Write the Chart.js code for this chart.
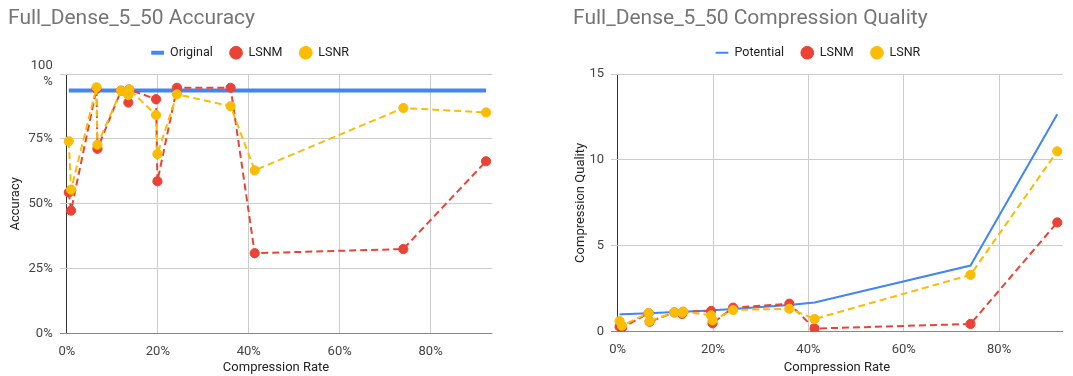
<!DOCTYPE html>
<html><head><meta charset="utf-8">
<script src="https://cdn.jsdelivr.net/npm/chart.js@4.4.1/dist/chart.umd.min.js"></script>
<style>
html,body{margin:0;padding:0;background:#fff;}
#wrap{position:relative;width:1073px;height:376px;overflow:hidden;background:#fff;}
.box{position:absolute;top:0;height:376px;}
#b1{left:0;width:536px;}
#b2{left:536px;width:537px;}
</style></head><body>
<div id="wrap">
  <div class="box" id="b1"><canvas id="c1"></canvas></div>
  <div class="box" id="b2"><canvas id="c2"></canvas></div>
</div>
<script>
// ---- data ----
const compressionRate = [0.4, 0.9, 6.5, 6.7, 11.9, 13.5, 13.7, 19.6, 19.9, 24.2, 36.0, 41.3, 74.0, 92.2];
const originalAccuracy = [93.6, 93.6, 93.6, 93.6, 93.6, 93.6, 93.6, 93.6, 93.6, 93.6, 93.6, 93.6, 93.6, 93.6];
const lsnmAccuracy = [54.4, 47.4, 94.3, 71.2, 93.6, 89.0, 94.0, 90.3, 58.7, 94.7, 94.7, 31.0, 32.6, 66.4];
const lsnrAccuracy = [74.1, 55.5, 94.9, 72.8, 93.6, 91.9, 94.1, 84.2, 69.2, 92.2, 87.6, 62.9, 86.9, 85.2];
const potentialQuality = [1.00, 1.01, 1.07, 1.07, 1.14, 1.16, 1.16, 1.24, 1.25, 1.32, 1.56, 1.70, 3.85, 12.66];
const lsnmQuality = [0.29, 0.22, 1.08, 0.58, 1.12, 1.03, 1.15, 1.21, 0.49, 1.40, 1.63, 0.18, 0.45, 6.36];
const lsnrQuality = [0.62, 0.35, 1.09, 0.62, 1.13, 1.10, 1.17, 0.95, 0.66, 1.26, 1.34, 0.74, 3.31, 10.5];

const xTicks = [0, 20, 40, 60, 80];
const xTickLabels = ['0%', '20%', '40%', '60%', '80%'];
const accTicks = [0, 25, 50, 75, 100];
const accTickLabels = ['0%', '25%', '50%', '75%', ['100', '%']];
const qualTicks = [0, 5, 10, 15];
const qualTickLabels = ['0', '5', '10', '15'];

const BLUE = '#4285F4', RED = '#EA4335', YELLOW = '#FBBC04';
const FONT = 'Roboto, "Liberation Sans", Arial, sans-serif';
Chart.defaults.font.family = FONT;

const pairs = (ys) => compressionRate.map((x, i) => ({x: x, y: ys[i]}));

function lineSet(label, ys, color, width, order) {
  return {label, data: pairs(ys), showLine: true, borderColor: color, backgroundColor: color,
    borderWidth: width, pointRadius: 0, pointHoverRadius: 0, order, xAxisID: 'x', yAxisID: 'y',
    legendStyle: 'line', legendWidth: width};
}
function dashSet(label, ys, color, order) {
  return {label, data: pairs(ys), showLine: true, borderColor: color, backgroundColor: color,
    borderWidth: 2, borderDash: [7, 4], pointRadius: 4.6, pointHoverRadius: 4.6,
    pointBackgroundColor: color, pointBorderColor: color, pointBorderWidth: 1,
    order, xAxisID: 'x', yAxisID: 'y', legendStyle: 'circle', legendWidth: 1};
}

function makeOptions(cfg) {
  return {
    responsive: true, maintainAspectRatio: false, animation: false,
    events: [],
    layout: {padding: {left: cfg.padLeft, right: cfg.padRight, top: 0, bottom: 0}},
    plugins: {
      tooltip: {enabled: false},
      title: {display: true, text: cfg.title, align: 'start', color: '#757575',
        font: {family: FONT, size: 21, weight: 'normal', lineHeight: 1.0},
        padding: {top: 8.5, bottom: 0}},
      legend: {display: true, position: 'top', align: 'center',
        labels: {usePointStyle: true, boxHeight: 9, padding: 17, color: '#222',
          font: {family: FONT, size: 12.5},
          generateLabels: (chart) => chart.data.datasets.map((ds, i) => ({
            text: ds.label, fillStyle: ds.backgroundColor, strokeStyle: ds.borderColor,
            lineWidth: ds.legendWidth, lineDash: [], pointStyle: ds.legendStyle,
            hidden: false, datasetIndex: i, fontColor: '#222'}))
        }}
    },
    scales: {
      x: {type: 'linear', position: 'bottom', min: cfg.xMin, max: cfg.xMax,
        afterBuildTicks: (s) => { s.ticks = xTicks.map(v => ({value: v})); },
        afterFit: (s) => { s.height = cfg.xAxisHeight; },
        ticks: {padding: 10, color: '#444', font: {family: FONT, size: 13},
          callback: (v) => xTickLabels[xTicks.indexOf(v)]},
        grid: {drawTicks: false, lineWidth: 1,
          color: (c) => (c.tick && c.tick.value === 0) ? '#333333' : '#cccccc'},
        border: {display: false},
        title: {display: true, text: 'Compression Rate', color: '#222',
          font: {family: FONT, size: 13}, padding: {top: 0, bottom: 0.5}}
      },
      xTop: {type: 'linear', position: 'top', display: true,
        afterFit: (s) => { s.height = 5; },
        ticks: {display: false}, grid: {display: false, drawTicks: false}, border: {display: false}},
      y: {type: 'linear', position: 'left', min: cfg.yMin, max: cfg.yMax,
        afterBuildTicks: (s) => { s.ticks = cfg.yTicks.map(v => ({value: v})); },
        afterFit: (s) => { s.width = cfg.yAxisWidth; },
        ticks: {padding: 7, color: '#444', font: {family: FONT, size: 13},
          callback: (v) => cfg.yTickLabels[cfg.yTicks.indexOf(v)]},
        grid: {drawTicks: false, lineWidth: 1,
          color: (c) => (c.tick && c.tick.value === 0) ? '#888888' : '#cccccc'},
        border: {display: false},
        title: {display: true, text: cfg.yTitle, color: '#222',
          font: {family: FONT, size: 13}, padding: {top: 0, bottom: 0}}
      }
    }
  };
}

new Chart(document.getElementById('c1'), {
  type: 'scatter',
  data: {datasets: [
    lineSet('Original', originalAccuracy, BLUE, 4, 3),
    dashSet('LSNM', lsnmAccuracy, RED, 2),
    dashSet('LSNR', lsnrAccuracy, YELLOW, 1)
  ]},
  options: makeOptions({title: 'Full_Dense_5_50 Accuracy', padLeft: 8, padRight: 43.6,
    xMin: -1.6, xMax: 93.6, xAxisHeight: 42.3, yMin: 0, yMax: 100, yTicks: accTicks,
    yTickLabels: accTickLabels, yAxisWidth: 51.7, yTitle: 'Accuracy'})
});

new Chart(document.getElementById('c2'), {
  type: 'scatter',
  data: {datasets: [
    lineSet('Potential', potentialQuality, BLUE, 2, 3),
    dashSet('LSNM', lsnmQuality, RED, 2),
    dashSet('LSNR', lsnrQuality, YELLOW, 1)
  ]},
  options: makeOptions({title: 'Full_Dense_5_50 Compression Quality', padLeft: 37, padRight: 10,
    xMin: -1.4, xMax: 93.4, xAxisHeight: 44.3, yMin: 0, yMax: 15, yTicks: qualTicks,
    yTickLabels: qualTickLabels, yAxisWidth: 38, yTitle: 'Compression Quality'})
});
</script>
</body></html>
